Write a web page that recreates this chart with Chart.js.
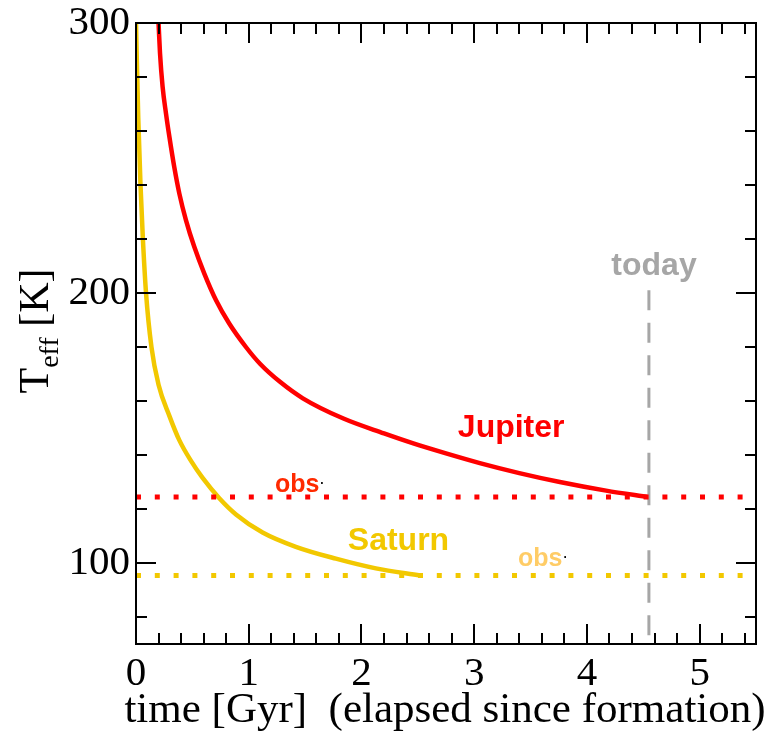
<!DOCTYPE html>
<html>
<head>
<meta charset="utf-8">
<script src="https://cdn.jsdelivr.net/npm/chart.js@4.4.1/dist/chart.umd.min.js"></script>
<style>
  body { margin: 0; background: #fff; }
  #wrap { width: 776px; height: 732px; }
</style>
</head>
<body>
<div id="wrap"><canvas id="chart" width="776" height="732"></canvas></div>
<script>
// cooling curves, time in Gyr, Teff in K
const jupiterTime = [0.2, 0.213, 0.236, 0.266, 0.296, 0.34, 0.384, 0.443, 0.517, 0.606, 0.709, 0.827, 0.975, 1.10, 1.28, 1.48, 1.84, 2.2, 2.46, 2.75, 3.05, 3.40, 3.76, 4.17, 4.55];
const jupiterTeff = [300, 288.8, 276.4, 266.5, 257.9, 246.5, 236.9, 227, 217.1, 207.2, 197.4, 188.7, 180, 173.8, 167.0, 161.0, 153.5, 148.0, 144.3, 140.6, 137.0, 133.3, 130.0, 126.8, 124.4];

const saturnTime = [0, 0.008, 0.02, 0.04, 0.06, 0.089, 0.137, 0.20, 0.296, 0.384, 0.488, 0.591, 0.739, 0.887, 1.123, 1.418, 1.773, 2.128, 2.52];
const saturnTeff = [300, 285, 265, 240, 221, 200, 180, 166, 154.5, 145.5, 137.8, 131.5, 124.0, 118.0, 111.3, 106.0, 101.6, 98.0, 95.4];

// observed values and the age of the solar system
const obsJupiter = 124.4;
const obsSaturn = 95.4;
const obsSpan = [0, 5.45];
const todayAge = 4.55;
const todaySpan = [201, 70];

const xRange = [0, 5.5];
const yRange = [70, 300];

const xTitle = "time [Gyr]  (elapsed since formation)";

const SERIF = "'Liberation Serif', 'Times New Roman', serif";
const SANS = "'Liberation Sans', Arial, Helvetica, sans-serif";

const GOLD = "#f2c800";

// text labels: left edge + baseline given in data units
const notes = [
  { text: "Jupiter", x: 2.855, y: 146.6, color: "#ff0000", size: 32 },
  { text: "Saturn", x: 1.879, y: 105.0, color: GOLD, size: 32 },
  { text: "obs", x: 1.232, y: 126.3, color: "#ff2a00", size: 25, dot: true },
  { text: "obs", x: 3.389, y: 98.8, color: "#ffcc66", size: 25, dot: true },
  { text: "today", x: 4.217, y: 206.6, color: "#a6a6a6", size: 32 }
];

Chart.defaults.font.family = SERIF;

function pairs(xs, ys) {
  return xs.map((v, i) => ({ x: v, y: ys[i] }));
}

function isMajorX(v) {
  return Math.abs(v - Math.round(v)) < 1e-6;
}

function isMajorY(v) {
  return Math.abs(v % 100) < 1e-6;
}

const framePlugin = {
  id: "frame",
  afterDraw(chart) {
    const { ctx, chartArea: a, scales: { x, y } } = chart;
    ctx.save();

    // box + inward ticks on all sides
    ctx.strokeStyle = "#000";
    ctx.lineWidth = 2;
    ctx.strokeRect(a.left, a.top, a.right - a.left, a.bottom - a.top);
    ctx.beginPath();
    x.ticks.forEach(t => {
      const px = Math.round(x.getPixelForValue(t.value));
      const len = isMajorX(t.value) ? 20 : 11;
      ctx.moveTo(px, a.bottom); ctx.lineTo(px, a.bottom - len);
      ctx.moveTo(px, a.top); ctx.lineTo(px, a.top + len);
    });
    y.ticks.forEach(t => {
      const py = Math.round(y.getPixelForValue(t.value));
      const len = isMajorY(t.value) ? 20 : 11;
      ctx.moveTo(a.left, py); ctx.lineTo(a.left + len, py);
      ctx.moveTo(a.right, py); ctx.lineTo(a.right - len, py);
    });
    ctx.stroke();

    ctx.fillStyle = "#000";
    ctx.textBaseline = "alphabetic";

    // x title (wider than the plot, so not the built-in one)
    ctx.textAlign = "center";
    ctx.font = "43px " + SERIF;
    ctx.fillText(xTitle, (a.left + a.right) / 2 - 1, 722);

    // y title with subscript
    ctx.textAlign = "left";
    const big = "42px " + SERIF;
    const small = "28px " + SERIF;
    ctx.font = big;
    const wT = ctx.measureText("T").width;
    const wK = ctx.measureText(" [K]").width;
    ctx.font = small;
    const wE = ctx.measureText("eff").width;
    const total = wT + wE + wK;
    ctx.save();
    ctx.translate(48, 331 + total / 2);
    ctx.rotate(-Math.PI / 2);
    ctx.font = big;
    ctx.fillText("T", 0, 0);
    ctx.font = small;
    ctx.fillText("eff", wT, 10);
    ctx.font = big;
    ctx.fillText(" [K]", wT + wE, 0);
    ctx.restore();

    // curve labels
    notes.forEach(n => {
      const px = x.getPixelForValue(n.x);
      const py = y.getPixelForValue(n.y);
      ctx.font = "bold " + n.size + "px " + SANS;
      ctx.fillStyle = n.color;
      ctx.fillText(n.text, px, py);
      if (n.dot) {
        const w = ctx.measureText(n.text).width;
        ctx.font = "bold 12px " + SANS;
        ctx.fillStyle = "#000";
        ctx.fillText(".", px + w + 1, py - 8);
      }
    });

    ctx.restore();
  }
};

function renderChart() {
  const ctx = document.getElementById("chart");
  new Chart(ctx, {
    type: "scatter",
    data: {
      datasets: [
        {
          label: "Jupiter obs",
          data: pairs(obsSpan, [obsJupiter, obsJupiter]),
          showLine: true,
          borderColor: "#ff0000",
          borderWidth: 5,
          borderDash: [5, 13.8],
          pointRadius: 0
        },
        {
          label: "Saturn obs",
          data: pairs(obsSpan, [obsSaturn, obsSaturn]),
          showLine: true,
          borderColor: GOLD,
          borderWidth: 5,
          borderDash: [5, 13.8],
          pointRadius: 0
        },
        {
          label: "today",
          data: pairs([todayAge, todayAge], todaySpan),
          showLine: true,
          borderColor: "#a6a6a6",
          borderWidth: 3,
          borderDash: [20, 12.5],
          pointRadius: 0
        },
        {
          label: "Jupiter",
          data: pairs(jupiterTime, jupiterTeff),
          showLine: true,
          borderColor: "#ff0000",
          borderWidth: 4.5,
          cubicInterpolationMode: "monotone",
          pointRadius: 0
        },
        {
          label: "Saturn",
          data: pairs(saturnTime, saturnTeff),
          showLine: true,
          borderColor: GOLD,
          borderWidth: 4.5,
          cubicInterpolationMode: "monotone",
          pointRadius: 0
        }
      ]
    },
    options: {
      responsive: false,
      animation: false,
      layout: { padding: { top: 23, right: 20, left: 0, bottom: 0 } },
      plugins: { legend: { display: false }, tooltip: { enabled: false } },
      scales: {
        x: {
          type: "linear",
          min: xRange[0],
          max: xRange[1],
          grid: { display: false, drawTicks: false },
          border: { display: false },
          ticks: {
            stepSize: 0.2,
            autoSkip: false,
            includeBounds: false,
            maxRotation: 0,
            padding: 6,
            color: "#000",
            font: { family: SERIF, size: 41 },
            callback: v => (isMajorX(v) ? String(Math.round(v)) : "")
          },
          title: { display: false },
          afterFit: s => {
            s.height = 88;
            s.paddingLeft = 0;
            s.paddingRight = 0;
          }
        },
        y: {
          type: "linear",
          min: yRange[0],
          max: yRange[1],
          grid: { display: false, drawTicks: false },
          border: { display: false },
          ticks: {
            stepSize: 20,
            autoSkip: false,
            includeBounds: false,
            padding: 6,
            color: "#000",
            font: { family: SERIF, size: 41 },
            callback: v => (isMajorY(v) ? String(v) : "")
          },
          afterFit: s => {
            s.width = 136;
            s.paddingTop = 0;
            s.paddingBottom = 0;
          }
        }
      }
    },
    plugins: [framePlugin]
  });
}

renderChart();
</script>
</body>
</html>
